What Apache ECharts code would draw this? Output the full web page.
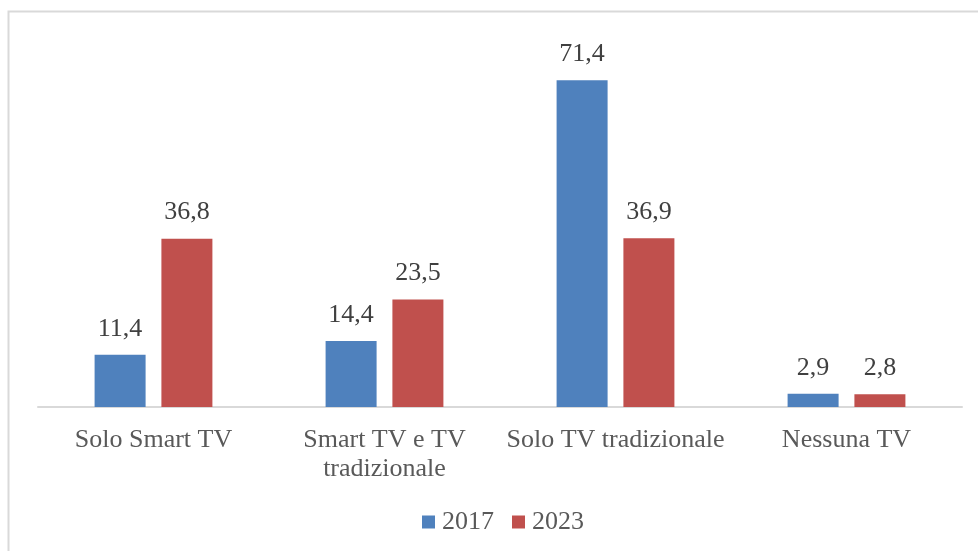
<!DOCTYPE html>
<html>
<head>
<meta charset="utf-8">
<script src="https://cdn.jsdelivr.net/npm/echarts@6/dist/echarts.min.js"></script>
<style>
  html, body { margin: 0; padding: 0; background: #fff; }
  #chart { width: 978px; height: 551px; }
</style>
</head>
<body>
<div id="chart"></div>
<script>
const categories = ['Solo Smart TV', 'Smart TV e TV\ntradizionale', 'Solo TV tradizionale', 'Nessuna TV'];
const values2017 = [11.4, 14.4, 71.4, 2.9];
const values2023 = [36.8, 23.5, 36.9, 2.8];

const chart = echarts.init(document.getElementById('chart'));
const font = '"Liberation Serif", "Times New Roman", serif';
const fmt = (p) => p.value.toFixed(1).replace('.', ',');

chart.setOption({
    textStyle: { fontFamily: font },
    graphic: [{
        type: 'rect',
        shape: { x: 8.5, y: 11.5, width: 1000, height: 600 },
        style: { fill: 'none', stroke: '#d9d9d9', lineWidth: 2 },
        silent: true
    }],
    legend: {
        bottom: 11,
        left: 417,
        itemWidth: 13,
        itemHeight: 13,
        itemGap: 18,
        icon: 'rect',
        textStyle: { fontFamily: font, fontSize: 26, color: '#595959', padding: [0, 0, 0, 2] }
    },
    grid: { left: 38, right: 16, top: 41, bottom: 144 },
    xAxis: {
        type: 'category',
        data: categories,
        axisLine: { lineStyle: { color: '#d9d9d9', width: 2 } },
        axisTick: { show: false },
        axisLabel: {
            fontFamily: font, fontSize: 26, color: '#595959',
            margin: 19, lineHeight: 29, interval: 0
        }
    },
    yAxis: {
        type: 'value',
        min: 0, max: 80,
        show: false
    },
    series: [
        {
            name: '2017', type: 'bar', data: values2017,
            itemStyle: { color: '#4f81bd' },
            barGap: '31%', barCategoryGap: '49%',
            label: { show: true, position: 'top', distance: 13, formatter: fmt,
                     fontFamily: font, fontSize: 26, color: '#404040' }
        },
        {
            name: '2023', type: 'bar', data: values2023,
            itemStyle: { color: '#c0504d' },
            label: { show: true, position: 'top', distance: 13, formatter: fmt,
                     fontFamily: font, fontSize: 26, color: '#404040' }
        }
    ]
});
</script>
</body>
</html>
